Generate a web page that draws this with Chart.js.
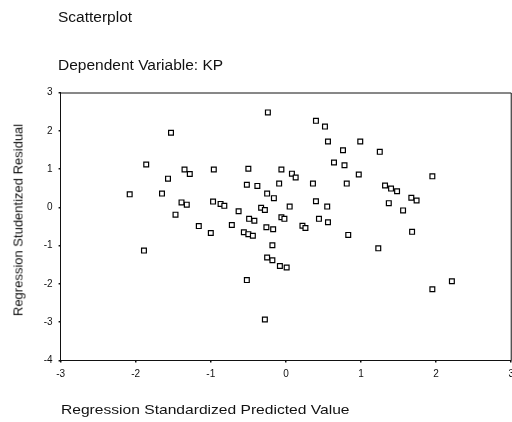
<!DOCTYPE html>
<html>
<head>
<meta charset="utf-8">
<script src="https://cdn.jsdelivr.net/npm/chart.js@4"></script>
<style>
  html, body { margin: 0; padding: 0; background: #fff; overflow: hidden; width: 512px; height: 422px; }
  #wrap { position: relative; width: 512px; height: 422px; overflow: hidden; }
  canvas { position: absolute; left: 0; top: 0; }
  .txt { position: absolute; font-family: "Liberation Sans", Arial, sans-serif; color: #111; white-space: nowrap; line-height: 1; transform-origin: 0 0; }
</style>
</head>
<body>
<div id="wrap">
  <canvas id="c" width="520" height="422"></canvas>
  <div class="txt" id="t1" style="left:58px; top:9px; font-size:15.5px;">Scatterplot</div>
  <div class="txt" id="t2" style="left:58px; top:57px; font-size:15.5px;">Dependent Variable: KP</div>
  <div class="txt" id="xt" style="left:61px; top:403px; font-size:13px; transform: scaleX(1.2);">Regression Standardized Predicted Value</div>
  <div class="txt" id="yt" style="left:18px; top:220px; font-size:13px; transform-origin: 50% 50%; transform: translate(-50%,-50%) rotate(-90deg);">Regression Studentized Residual</div>
</div>
<script>
// Regression standardized predicted value (x) and studentized residual (y)
const predicted = [-2.08,-1.86,-1.89,-1.53,-1.57,-1.65,-1.47,-1.35,-1.28,-1.39,-1.32,-1.16,-0.96,-0.97,-0.87,-0.82,-1.00,-0.72,-0.63,-0.50,-0.52,-0.38,-0.49,-0.42,-0.56,-0.50,-0.44,-0.52,-0.33,-0.28,-0.25,-0.16,-0.26,-0.17,-0.18,-0.25,-0.18,-0.08,0.01,-0.28,-0.24,-0.06,-0.09,-0.06,-0.02,0.05,0.08,0.13,0.22,0.26,0.36,0.40,0.52,0.40,0.55,0.44,0.56,0.56,0.64,0.78,0.76,0.81,0.83,0.99,0.97,1.25,1.32,1.40,1.48,1.37,1.56,1.67,1.74,1.68,1.23,1.95,1.95,2.21];
const residual = [0.34,1.12,-1.13,1.95,0.75,0.36,-0.19,0.99,0.87,0.13,0.07,-0.49,0.99,0.15,0.09,0.04,-0.67,-0.46,-0.10,1.01,0.59,0.56,-0.30,-0.35,-0.65,-0.70,-0.74,-1.90,-0.01,-0.07,0.36,0.24,-0.52,-0.57,-0.99,-1.31,-1.38,-1.53,-1.57,-2.93,2.48,0.99,0.62,-0.26,-0.30,0.02,0.88,0.78,-0.48,-0.54,0.62,2.26,2.11,0.16,0.02,-0.30,-0.39,1.72,1.17,1.10,1.49,0.62,-0.72,1.72,0.86,1.45,0.57,0.49,0.42,0.11,-0.08,0.25,0.18,-0.64,-1.07,0.81,-2.14,-1.93];
const xTicks = [-3,-2,-1,0,1,2,3];
const yTicks = [-4,-3,-2,-1,0,1,2,3];

const points = predicted.map((x, i) => ({ x: x, y: residual[i] }));

const frame = {
  id: 'frame',
  afterDraw(chart) {
    const a = chart.chartArea, ctx = chart.ctx;
    ctx.save();
    ctx.strokeStyle = '#111';
    ctx.lineWidth = 1;
    ctx.beginPath();
    ctx.moveTo(a.left, a.top + 0.5);
    ctx.lineTo(a.right, a.top + 0.5);
    ctx.lineTo(a.right, a.bottom);
    ctx.stroke();
    ctx.restore();
  }
};

new Chart(document.getElementById('c'), {
  type: 'scatter',
  data: {
    datasets: [{
      data: points,
      pointStyle: 'rect',
      pointRadius: 3.4,
      pointBorderWidth: 1.2,
      pointBorderColor: '#000',
      pointBackgroundColor: '#fff',
      showLine: false
    }]
  },
  options: {
    responsive: false,
    devicePixelRatio: 1,
    animation: false,
    layout: { padding: { top: 92.5, right: 4.6, left: 0, bottom: 0 } },
    plugins: { legend: { display: false }, tooltip: { enabled: false }, title: { display: false } },
    scales: {
      x: {
        type: 'linear',
        min: xTicks[0], max: xTicks[xTicks.length - 1],
        afterBuildTicks(s) { s.ticks = xTicks.map(v => ({ value: v })); },
        afterFit(s) { s.height = 61.5; },
        grid: { drawOnChartArea: false, drawTicks: true, tickLength: 2, color: '#111', lineWidth: 1.5 },
        border: { display: true, color: '#111', width: 1 },
        ticks: { color: '#111', font: { family: 'Liberation Sans', size: 10 }, padding: 6, maxRotation: 0 }
      },
      y: {
        type: 'linear',
        min: yTicks[0], max: yTicks[yTicks.length - 1],
        afterBuildTicks(s) { s.ticks = yTicks.map(v => ({ value: v })); },
        afterFit(s) { s.width = 60.6; },
        grid: { drawOnChartArea: false, drawTicks: true, tickLength: 2, color: '#111', lineWidth: 1.5 },
        border: { display: true, color: '#111', width: 1 },
        ticks: { color: '#111', font: { family: 'Liberation Sans', size: 10 }, padding: 6 }
      }
    }
  },
  plugins: [frame]
});
</script>
</body>
</html>
